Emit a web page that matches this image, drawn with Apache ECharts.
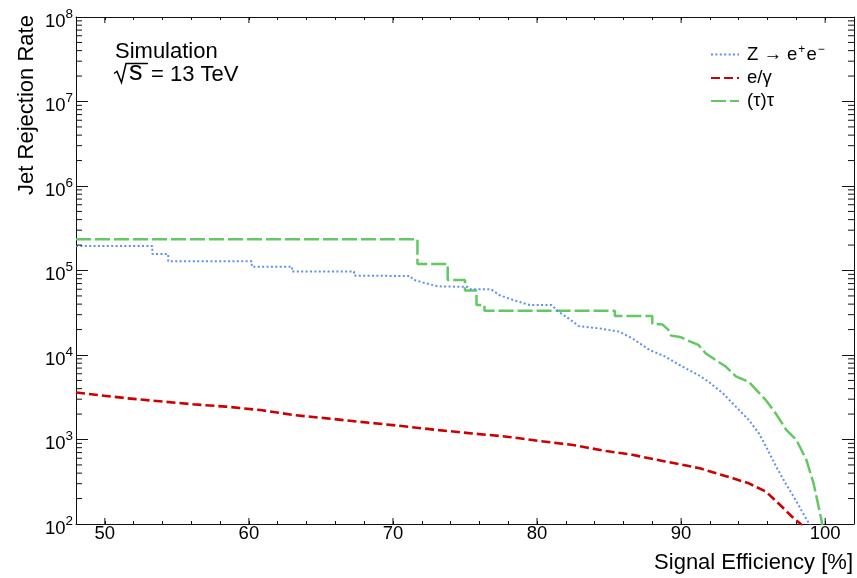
<!DOCTYPE html>
<html>
<head>
<meta charset="utf-8">
<script src="https://cdn.jsdelivr.net/npm/echarts@6/dist/echarts.min.js"></script>
<style>
html, body { margin: 0; padding: 0; background: #fff; }
#chart { width: 857px; height: 578px; }
</style>
</head>
<body>
<div id="chart"></div>
<script>
const FONT = '"Liberation Sans", Arial, Helvetica, sans-serif';

// Z -> e+e- : signal efficiency [%] and jet rejection rate
const zeeEff = [48, 53.3, 53.3, 54.4, 54.4, 60.2, 60.2, 63.0, 63.0, 67.3, 67.3, 71.2, 71.4, 72.1, 73.1,
  75.2, 75.4, 76.8, 77.4, 78.3, 79.5, 81.0, 81.5, 82.2, 82.9, 84.3, 85.7, 86.6, 87.8, 88.9, 90.1,
  91.2, 91.9, 92.9, 93.8, 94.7, 95.4, 95.9, 96.6, 97.25, 97.95, 98.6, 98.9, 99.0];
const zeeRej = [1.95e5, 1.95e5, 1.57e5, 1.57e5, 1.29e5, 1.29e5, 1.11e5, 1.11e5, 9.7e4, 9.7e4, 8.7e4, 8.6e4, 7.8e4, 7.2e4, 6.5e4,
  6.4e4, 6.0e4, 6.0e4, 5.1e4, 4.5e4, 3.9e4, 3.9e4, 3.25e4, 2.7e4, 2.2e4, 2.07e4, 1.89e4, 1.58e4, 1.15e4, 9.55e3, 7.27e3,
  5.8e3, 4.83e3, 3.52e3, 2.44e3, 1.7e3, 1.18e3, 822, 477, 303, 192, 122, 100, 90];

// e/gamma
const egEff = [48.0, 51.5, 56.1, 58.4, 60.8, 63.1, 65.4, 67.7, 70.0, 73.2, 75.5, 77.9, 80.2, 82.5, 84.8,
  86.6, 88.9, 91.3, 93.6, 94.7, 95.9, 97.0, 97.7, 98.3, 98.5];
const egRej = [3600, 3080, 2610, 2450, 2230, 1950, 1780, 1620, 1480, 1290, 1180, 1080, 960, 860, 730,
  660, 550, 456, 347, 303, 241, 160, 122, 100, 90];

// (tau)tau
const tauEff = [48, 71.7, 71.7, 73.8, 73.8, 75.0, 75.0, 75.8, 75.8, 76.35, 76.35, 85.4, 85.4, 88.0, 88.0,
  88.7, 89.1, 89.3, 90.0, 90.6, 91.2, 91.7, 92.4, 93.1, 93.8, 94.7, 95.2, 95.9, 96.6, 97.3, 98.0,
  98.7, 99.2, 99.75, 99.8];
const tauRej = [2.34e5, 2.34e5, 1.19e5, 1.19e5, 7.7e4, 7.7e4, 5.8e4, 5.8e4, 3.9e4, 3.9e4, 3.34e4, 3.34e4, 2.9e4, 2.9e4, 2.35e4,
  2.3e4, 2.0e4, 1.7e4, 1.62e4, 1.45e4, 1.32e4, 1.05e4, 8.7e3, 7.3e3, 5.6e3, 4.8e3, 3.9e3, 2.9e3, 2.0e3, 1.3e3, 990,
  570, 300, 110, 95];

// axis setup
const xMin = 48, xMax = 102;
const xTickLabels = [50, 60, 70, 80, 90, 100];
const yMin = 1e2, yMax = 1e8;
const yDecades = [2, 3, 4, 5, 6, 7, 8];

const seriesNames = ['Z → e⁺e⁻', 'e/γ', '(τ)τ'];
const legendText = {
  'Z → e⁺e⁻': 'Z → e{sup|+}e{sup|−}',
  'e/γ': 'e/γ',
  '(τ)τ': '(τ)τ'
};

const zip = (xs, ys) => xs.map((x, i) => [x, ys[i]]);

// log-axis minor tick positions (2..9 x 10^k)
const logMinor = [];
for (let i = 0; i < yDecades.length - 1; i++) {
  for (let m = 2; m <= 9; m++) logMinor.push([xMin, m * Math.pow(10, yDecades[i])]);
}

const chart = echarts.init(document.getElementById('chart'), null, { renderer: 'canvas' });

const frameLine = { show: true, onZero: false, lineStyle: { color: '#111', width: 1 } };

chart.setOption({
  animation: false,
  backgroundColor: '#fff',
  textStyle: { fontFamily: FONT },
  grid: { left: 76, right: 2, top: 17, bottom: 54, containLabel: false },
  legend: {
    data: seriesNames,
    orient: 'vertical',
    left: 705,
    top: 39,
    itemWidth: 28,
    itemHeight: 14,
    itemGap: 3,
    itemStyle: { opacity: 0 },
    formatter: name => legendText[name],
    textStyle: {
      fontFamily: FONT, fontSize: 18.5, color: '#000', lineHeight: 20, padding: [0, 0, 0, 3],
      rich: { sup: { fontFamily: FONT, fontSize: 12, lineHeight: 11, padding: [0, 1, 9, 1], color: '#000' } }
    }
  },
  xAxis: [
    {
      type: 'value', position: 'bottom', min: xMin, max: xMax, interval: 2,
      axisLine: frameLine,
      axisTick: { show: true, inside: true, length: 3, lineStyle: { color: '#111' } },
      splitLine: { show: false },
      axisLabel: {
        margin: 0, color: '#000', fontSize: 18.5, fontFamily: FONT,
        formatter: v => (xTickLabels.indexOf(v) >= 0 ? String(v) : '')
      }
    },
    {
      type: 'value', position: 'top', min: xMin, max: xMax, interval: 2,
      axisLine: frameLine,
      axisTick: { show: true, inside: true, length: 3, lineStyle: { color: '#111' } },
      splitLine: { show: false },
      axisLabel: { show: false }
    }
  ],
  yAxis: [
    {
      type: 'log', logBase: 10, min: yMin, max: yMax, position: 'left',
      axisLine: frameLine,
      axisTick: { show: true, inside: true, length: 12, lineStyle: { color: '#111' } },
      splitLine: { show: false },
      axisLabel: {
        margin: 3, color: '#000',
        formatter: v => '{a|10}{b|' + Math.round(Math.log10(v)) + '}',
        rich: {
          a: { fontFamily: FONT, fontSize: 18.5, lineHeight: 17, padding: [9, 0, 0, 0], color: '#000' },
          b: { fontFamily: FONT, fontSize: 13.5, lineHeight: 20, padding: [0, 0, 6, 0], color: '#000' }
        }
      }
    },
    {
      type: 'log', logBase: 10, min: yMin, max: yMax, position: 'right',
      axisLine: frameLine,
      axisTick: { show: true, inside: true, length: 12, lineStyle: { color: '#111' } },
      splitLine: { show: false },
      axisLabel: { show: false }
    }
  ],
  series: [
    {
      name: seriesNames[0], type: 'line', data: zip(zeeEff, zeeRej),
      symbol: 'none', clip: true, z: 3,
      lineStyle: { color: '#5f8ff2', width: 2, type: [2, 2.4], cap: 'butt' },
      itemStyle: { color: '#5f8ff2' }
    },
    {
      name: seriesNames[1], type: 'line', data: zip(egEff, egRej),
      symbol: 'none', clip: true, z: 3,
      lineStyle: { color: '#cc0000', width: 2.6, type: [9, 4], cap: 'butt' },
      itemStyle: { color: '#cc0000' }
    },
    {
      name: seriesNames[2], type: 'line', data: zip(tauEff, tauRej),
      symbol: 'none', clip: true, z: 2,
      lineStyle: { color: '#62c862', width: 2.5, type: [15, 4], cap: 'butt' },
      itemStyle: { color: '#62c862' }
    },
    {
      // major x ticks on bottom and top frame
      type: 'custom', silent: true, z: 5,
      data: xTickLabels.map(v => [v, yMin]),
      renderItem: (params, api) => {
        const p = api.coord([api.value(0), api.value(1)]);
        const cs = params.coordSys;
        const st = { stroke: '#111', lineWidth: 1 };
        return {
          type: 'group', children: [
            { type: 'line', shape: { x1: p[0], y1: cs.y + cs.height, x2: p[0], y2: cs.y + cs.height - 6 }, style: st },
            { type: 'line', shape: { x1: p[0], y1: cs.y, x2: p[0], y2: cs.y + 6 }, style: st }
          ]
        };
      }
    },
    {
      // logarithmic minor y ticks on left and right frame
      type: 'custom', silent: true, z: 5,
      data: logMinor,
      renderItem: (params, api) => {
        const p = api.coord([api.value(0), api.value(1)]);
        const cs = params.coordSys;
        const st = { stroke: '#111', lineWidth: 1 };
        return {
          type: 'group', children: [
            { type: 'line', shape: { x1: cs.x, y1: p[1], x2: cs.x + 6, y2: p[1] }, style: st },
            { type: 'line', shape: { x1: cs.x + cs.width, y1: p[1], x2: cs.x + cs.width - 6, y2: p[1] }, style: st }
          ]
        };
      }
    }
  ],
  graphic: [
    {
      type: 'text', x: 27, y: 105, rotation: Math.PI / 2,
      style: { text: 'Jet Rejection Rate', font: '22px ' + FONT, fill: '#000', align: 'center', verticalAlign: 'middle' }
    },
    {
      type: 'text', x: 853, y: 563,
      style: { text: 'Signal Efficiency [%]', font: '22px ' + FONT, fill: '#000', align: 'right', verticalAlign: 'middle' }
    },
    {
      type: 'text', x: 115, y: 51.5,
      style: { text: 'Simulation', font: '22px ' + FONT, fill: '#000', align: 'left', verticalAlign: 'middle' }
    },
    {
      type: 'polyline',
      shape: { points: [[114, 73.5], [117, 71.5], [121.5, 82.5], [126, 63.5], [148, 63.5]] },
      style: { stroke: '#000', lineWidth: 1.5, fill: null }
    },
    {
      type: 'text', x: 129, y: 73,
      style: { text: 's', font: '27px ' + FONT, fill: '#000', align: 'left', verticalAlign: 'middle' }
    },
    {
      type: 'text', x: 151, y: 75,
      style: { text: '= 13 TeV', font: '22px ' + FONT, fill: '#000', align: 'left', verticalAlign: 'middle' }
    }
  ]
});
</script>
</body>
</html>
